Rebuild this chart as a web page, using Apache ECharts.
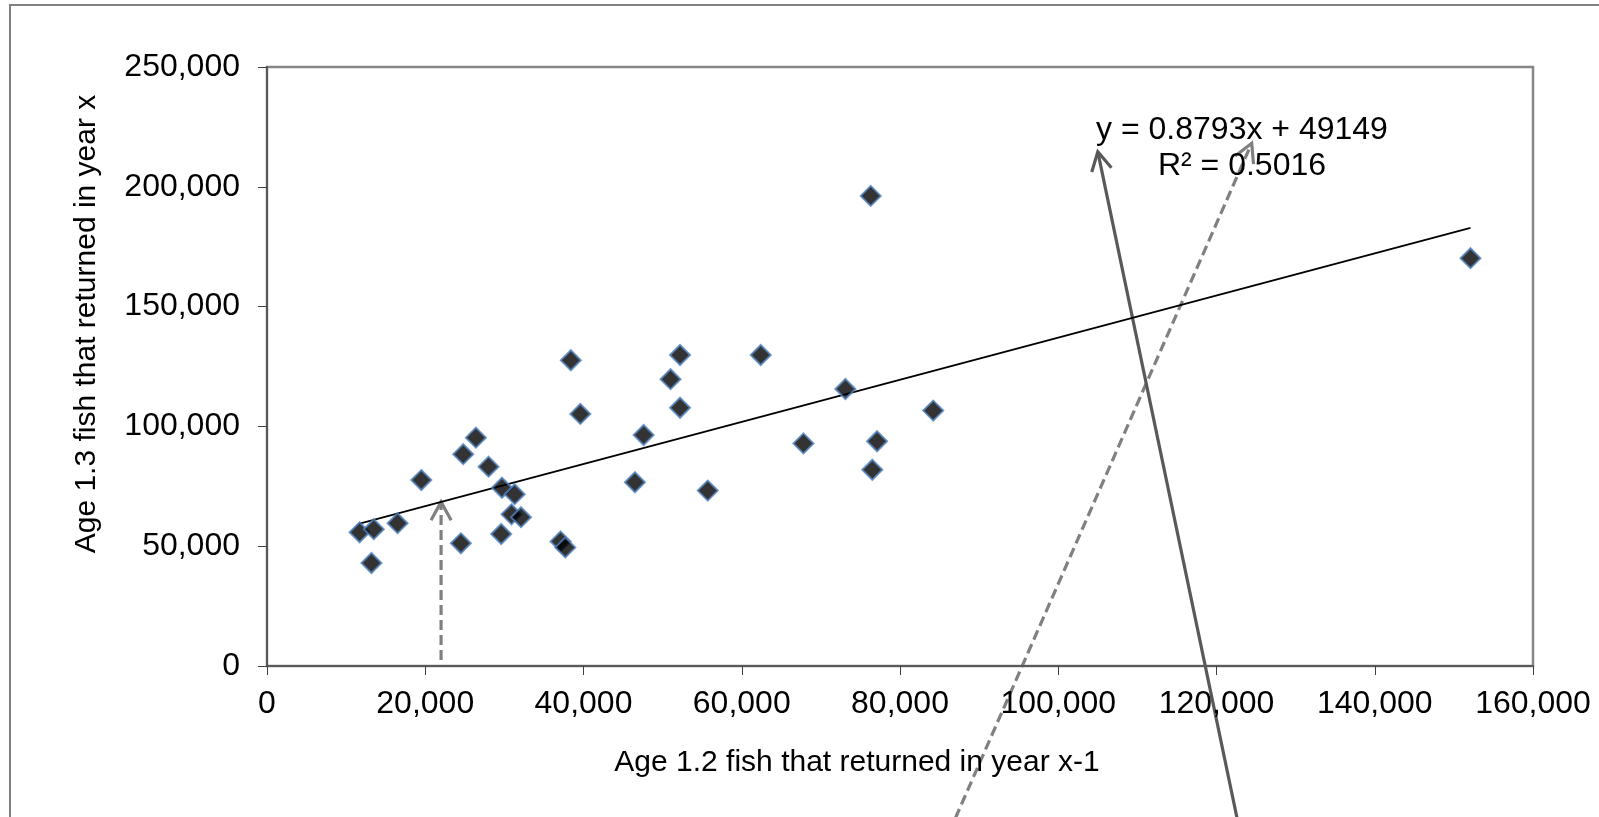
<!DOCTYPE html>
<html>
<head>
<meta charset="utf-8">
<title>Age 1.3 vs Age 1.2 returns</title>
<script src="https://cdn.jsdelivr.net/npm/echarts@6/dist/echarts.min.js"></script>
<style>
  html, body { margin: 0; padding: 0; background: #ffffff; }
  #chart { width: 1599px; height: 817px; }
</style>
</head>
<body>
<div id="chart"></div>
<script>
// Age 1.2 fish returning in year x-1 (x) against age 1.3 fish returning in year x (y)
const age12Returns = [
  11700, 13200, 13500, 16500, 19500, 24500, 24800, 26400, 28000, 29600,
  29700, 30900, 31300, 32100, 37100, 37700, 38400, 39600, 46500, 47600,
  51000, 52200, 52200, 55700, 62400, 67800, 73100, 76300, 76500, 77100,
  84200, 152100
];
const age13Returns = [
  55800, 43000, 57100, 59600, 77600, 51200, 88400, 95300, 83200, 55100,
  74400, 63300, 71700, 62100, 52000, 49500, 127600, 105200, 76700, 96400,
  119700, 129800, 107800, 73200, 129800, 92900, 115600, 196200, 81900, 93800,
  106600, 170200
];

// Linear trend reported for the series
const trendSlope = 0.8793;
const trendIntercept = 49149;
const trendRSquared = 0.5016;

// Axis ranges and tick steps
const xAxisTicks = { min: 0, max: 160000, interval: 20000 };
const yAxisTicks = { min: 0, max: 250000, interval: 50000 };

// Annotation arrows, in data units: [fromX, fromY] -> [toX, toY]
const arrowNotes = [
  { from: [22000, 2500], to: [22000, 68500], dashed: true, color: '#808080' },
  { from: [87000, -63500], to: [124450, 218200], dashed: true, color: '#808080' },
  { from: [122600, -63500], to: [105000, 214600], dashed: false, color: '#595959' }
];

const FONT = "'Liberation Sans', Arial, sans-serif";
const points = age12Returns.map((x, i) => [x, age13Returns[i]]);
const xMin = Math.min(...age12Returns);
const xMax = Math.max(...age12Returns);
const trendPoints = [xMin, xMax].map(x => [x, trendSlope * x + trendIntercept]);
const fmt = v => v.toLocaleString('en-US');

const chart = echarts.init(document.getElementById('chart'), null, { renderer: 'canvas' });

const axisCommon = {
  type: 'value',
  splitLine: { show: false },
  axisLine: { show: true, lineStyle: { color: '#595959', width: 2 } },
  axisTick: { show: true, inside: false, length: 9, lineStyle: { color: '#404040', width: 1 } },
  nameLocation: 'middle',
  nameTextStyle: { fontFamily: FONT, fontSize: 30, color: '#000000' }
};

chart.setOption({
  animation: false,
  backgroundColor: '#ffffff',
  grid: {
    left: 267, right: 66, top: 67, bottom: 151,
    containLabel: false, outerBoundsMode: 'none',
    show: true, borderColor: '#868686', borderWidth: 2.5, backgroundColor: 'transparent'
  },
  xAxis: Object.assign({}, axisCommon, {
    min: xAxisTicks.min, max: xAxisTicks.max, interval: xAxisTicks.interval,
    name: 'Age 1.2 fish that returned in year x-1',
    nameGap: 82,
    nameTextStyle: Object.assign({}, axisCommon.nameTextStyle, { padding: [0, 86, 0, 0] }),
    axisLabel: {
      margin: 22, fontFamily: FONT, fontSize: 32, color: '#000000',
      showMinLabel: true, showMaxLabel: true, hideOverlap: false,
      formatter: fmt
    }
  }),
  yAxis: Object.assign({}, axisCommon, {
    min: yAxisTicks.min, max: yAxisTicks.max, interval: yAxisTicks.interval,
    name: 'Age 1.3 fish that returned in year x',
    nameGap: 165,
    nameRotate: 90,
    nameTextStyle: Object.assign({}, axisCommon.nameTextStyle, { padding: [0, 0, 0, 85] }),
    axisLabel: {
      margin: 27, fontFamily: FONT, fontSize: 32, color: '#000000',
      showMinLabel: true, showMaxLabel: true, hideOverlap: false,
      formatter: fmt
    }
  }),
  series: [
    {
      name: 'Returns',
      type: 'scatter',
      data: points,
      symbol: 'diamond',
      symbolSize: 20,
      itemStyle: { color: '#000000', borderColor: '#4F81BD', borderWidth: 2 },
      z: 3
    },
    {
      name: 'Linear trend',
      type: 'line',
      data: trendPoints,
      symbol: 'none',
      lineStyle: { color: '#000000', width: 1.8 },
      silent: true,
      z: 2
    }
  ]
});

// Open chevron arrow from one data point to another
function arrowGraphic(note, idx) {
  const p0 = chart.convertToPixel({ gridIndex: 0 }, note.from);
  const p1 = chart.convertToPixel({ gridIndex: 0 }, note.to);
  const ang = Math.atan2(p1[1] - p0[1], p1[0] - p0[0]);
  const headLen = 21, headAng = Math.PI / 6.3;
  const a = [p1[0] - headLen * Math.cos(ang - headAng), p1[1] - headLen * Math.sin(ang - headAng)];
  const b = [p1[0] - headLen * Math.cos(ang + headAng), p1[1] - headLen * Math.sin(ang + headAng)];
  const style = { stroke: note.color, lineWidth: 3.2, fill: null };
  return {
    type: 'group', id: 'arrow' + idx, z: 100,
    children: [
      { type: 'line', shape: { x1: p0[0], y1: p0[1], x2: p1[0], y2: p1[1] },
        style: Object.assign({}, style, { lineDash: note.dashed ? [10, 5] : null }) },
      { type: 'polyline', shape: { points: [a, p1, b] },
        style: Object.assign({}, style, { lineJoin: 'miter' }) }
    ]
  };
}

chart.setOption({
  graphic: [
    {
      type: 'rect', id: 'frame', z: 0, silent: true,
      shape: { x: 10, y: 5, width: 1700, height: 1000 },
      style: { fill: null, stroke: '#808080', lineWidth: 2 }
    },
    {
      type: 'text', id: 'equation', z: 50,
      x: 1242, y: 112,
      style: {
        text: 'y = ' + trendSlope + 'x + ' + trendIntercept + '\nR² = ' + trendRSquared,
        fontFamily: FONT, fontSize: 32, lineHeight: 36, fill: '#000000',
        align: 'center', verticalAlign: 'top'
      }
    }
  ].concat(arrowNotes.map(arrowGraphic))
});
</script>
</body>
</html>
